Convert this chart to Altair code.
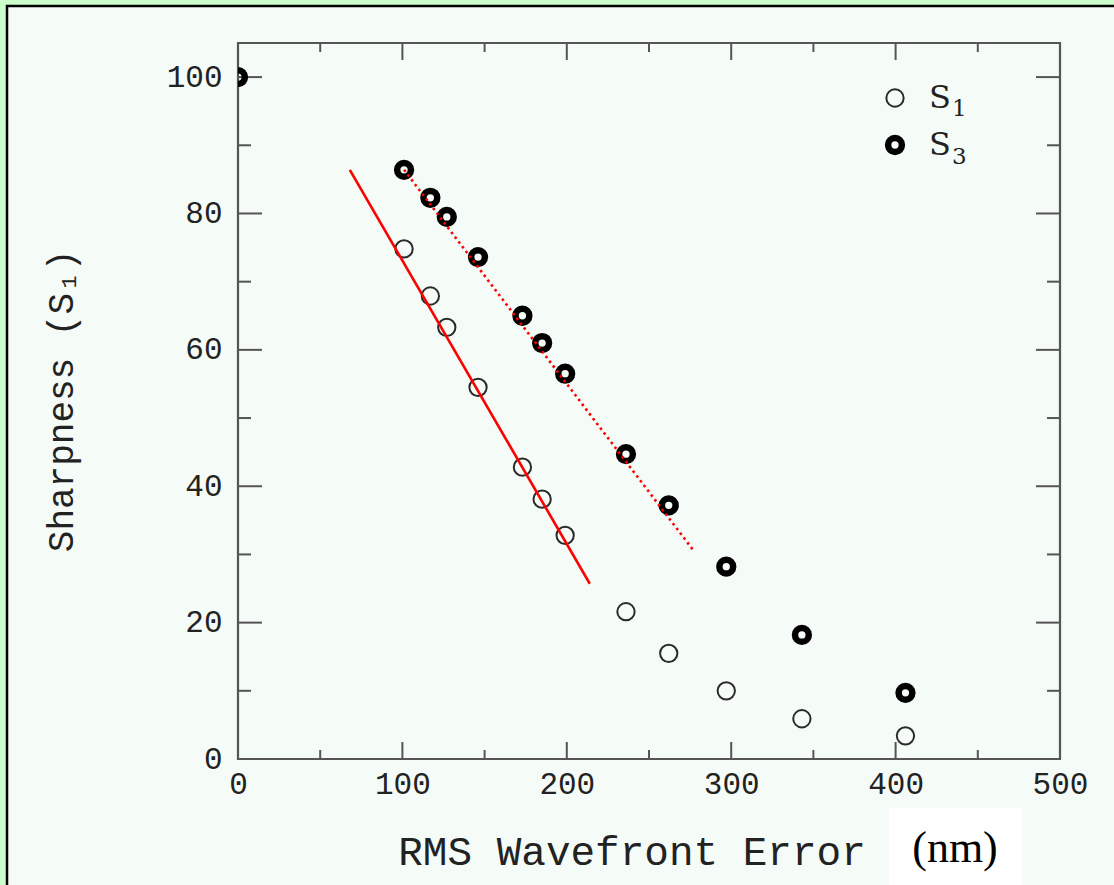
import altair as alt
import pandas as pd

# RMS wavefront error (nm) and the two sharpness measures
rms = [0, 101, 117, 127, 146, 173, 185, 199, 236, 262, 297, 343, 406]
s1 = [100, 74.8, 67.9, 63.3, 54.5, 42.8, 38.1, 32.8, 21.6, 15.5, 10.0, 5.9, 3.4]
s3 = [100, 86.4, 82.3, 79.5, 73.6, 65.0, 61.0, 56.5, 44.7, 37.2, 28.2, 18.2, 9.7]

# linear fits over the well-corrected range
fit1_x = [68, 214]
fit1_y = [86.4, 25.7]
fit3_x = [101, 277]
fit3_y = [86.4, 30.6]

# axis ticks
x_major = [0, 100, 200, 300, 400, 500]
x_minor = [50, 150, 250, 350, 450]
y_major = [0, 20, 40, 60, 80, 100]
y_minor = [10, 30, 50, 70, 90]

legend_main = ["S", "S"]
legend_sub = ["1", "3"]

W, H = 822, 716
XS = alt.Scale(domain=[0, 500], nice=False, zero=False)
YS = alt.Scale(domain=[0, 105], nice=False, zero=False)
FRAME = "#555555"
TICKFONT = "Liberation Mono"

pts = pd.DataFrame({"rms": rms, "s1": s1, "s3": s3})
f1 = pd.DataFrame({"x": fit1_x, "y": fit1_y})
f3 = pd.DataFrame({"x": fit3_x, "y": fit3_y})
one = pd.DataFrame({"k": [0]})

# light panel with a dark border, sitting on the green page
panel = alt.Chart(one).mark_rect(fill="#f5fbf7", stroke="black", strokeWidth=2.5, clip=False).encode(
    x=alt.value(-231), x2=alt.value(W + 200), y=alt.value(-37), y2=alt.value(H + 200)
)

frame = alt.Chart(one).mark_rect(fill=None, stroke=FRAME, strokeWidth=2.2).encode(
    x=alt.value(0), x2=alt.value(W), y=alt.value(0), y2=alt.value(H)
)

axes = alt.Chart(one).mark_point(opacity=0).encode(
    x=alt.X("k:Q", scale=XS, axis=alt.Axis(
        values=x_major, format="d", domain=False, ticks=False, grid=False, title=None,
        labelFont=TICKFONT, labelFontSize=31, labelColor="#222", labelPadding=10, zindex=1,
        labelFlush=False)),
    y=alt.Y("k:Q", scale=YS, axis=alt.Axis(
        values=y_major, format="d", domain=False, ticks=False, grid=False, title=None,
        labelFont=TICKFONT, labelFontSize=31, labelColor="#222", labelPadding=16, zindex=1,
        labelFlush=False)),
)

xmaj = pd.DataFrame({"v": x_major})
xmin = pd.DataFrame({"v": x_minor})
ymaj = pd.DataFrame({"v": y_major})
ymin = pd.DataFrame({"v": y_minor})

def xticks(df, length):
    base = alt.Chart(df).mark_rule(color=FRAME, strokeWidth=2)
    bottom = base.encode(x=alt.X("v:Q", scale=XS), y=alt.value(H), y2=alt.value(H - length))
    top = base.encode(x=alt.X("v:Q", scale=XS), y=alt.value(0), y2=alt.value(length))
    return bottom + top

def yticks(df, length):
    base = alt.Chart(df).mark_rule(color=FRAME, strokeWidth=2)
    left = base.encode(y=alt.Y("v:Q", scale=YS), x=alt.value(0), x2=alt.value(length))
    right = base.encode(y=alt.Y("v:Q", scale=YS), x=alt.value(W), x2=alt.value(W - length))
    return left + right

ticks = xticks(xmaj, 17) + xticks(xmin, 9) + yticks(ymaj, 24) + yticks(ymin, 13)

fit_solid = alt.Chart(f1).mark_line(color="#ff0000", strokeWidth=2.6).encode(
    x=alt.X("x:Q", scale=XS), y=alt.Y("y:Q", scale=YS)
)
fit_dotted = alt.Chart(f3).mark_line(color="#ff0000", strokeWidth=2.6, strokeDash=[2.5, 3.5]).encode(
    x=alt.X("x:Q", scale=XS), y=alt.Y("y:Q", scale=YS)
)

open_pts = alt.Chart(pts).mark_point(
    shape="circle", size=300, filled=False, stroke="#2a2a2a", strokeWidth=2, opacity=1, clip=True
).encode(x=alt.X("rms:Q", scale=XS), y=alt.Y("s1:Q", scale=YS))

ring_pts = alt.Chart(pts).mark_point(
    shape="circle", size=190, filled=False, stroke="black", strokeWidth=6.5, opacity=1, clip=True
).encode(x=alt.X("rms:Q", scale=XS), y=alt.Y("s3:Q", scale=YS))

# legend
leg = pd.DataFrame({"main": legend_main, "sub": legend_sub, "row": [0, 1]})
leg_open = alt.Chart(leg[leg.row == 0]).mark_point(
    shape="circle", size=300, filled=False, stroke="#2a2a2a", strokeWidth=2, opacity=1
).encode(x=alt.value(657), y=alt.value(55))
leg_ring = alt.Chart(leg[leg.row == 1]).mark_point(
    shape="circle", size=190, filled=False, stroke="black", strokeWidth=6.5, opacity=1
).encode(x=alt.value(657), y=alt.value(102))
leg_s1 = alt.Chart(leg[leg.row == 0]).mark_text(
    font="DejaVu Serif", fontSize=32, align="left", baseline="alphabetic", color="#222"
).encode(x=alt.value(691), y=alt.value(65), text="main:N")
leg_s1b = alt.Chart(leg[leg.row == 0]).mark_text(
    font="DejaVu Serif", fontSize=23, align="left", baseline="alphabetic", color="#222"
).encode(x=alt.value(714), y=alt.value(73), text="sub:N")
leg_s3 = alt.Chart(leg[leg.row == 1]).mark_text(
    font="DejaVu Serif", fontSize=32, align="left", baseline="alphabetic", color="#222"
).encode(x=alt.value(691), y=alt.value(112), text="main:N")
leg_s3b = alt.Chart(leg[leg.row == 1]).mark_text(
    font="DejaVu Serif", fontSize=23, align="left", baseline="alphabetic", color="#222"
).encode(x=alt.value(714), y=alt.value(121), text="sub:N")

# axis titles
xtitle = alt.Chart(one).mark_text(
    text="RMS Wavefront Error", font="Liberation Mono", fontSize=41, align="center",
    baseline="alphabetic", color="#222"
).encode(x=alt.value(394), y=alt.value(822))
unit_box = alt.Chart(one).mark_rect(fill="white", clip=False).encode(
    x=alt.value(651), x2=alt.value(784), y=alt.value(765), y2=alt.value(H + 200)
)
unit = alt.Chart(one).mark_text(
    text="(nm)", font="Liberation Serif", fontSize=44, align="center",
    baseline="alphabetic", color="black"
).encode(x=alt.value(717), y=alt.value(819))
ytitle = alt.Chart(one).mark_text(
    text="Sharpness (S₁)", font="Liberation Mono", fontSize=36, align="center",
    baseline="middle", angle=270, color="#222"
).encode(x=alt.value(-176), y=alt.value(358))

chart = alt.layer(
    panel, axes, frame, ticks, open_pts, ring_pts, fit_solid, fit_dotted,
    leg_open, leg_ring, leg_s1, leg_s1b, leg_s3, leg_s3b,
    xtitle, unit_box, unit, ytitle,
).properties(
    width=W, height=H,
    autosize=alt.AutoSizeParams(type="none"),
    padding={"left": 238, "top": 43, "right": 54, "bottom": 126},
    background="#ccffcc",
).configure_view(stroke=None)

chart.save("out.html", embed_options={"renderer": "svg", "actions": False})
